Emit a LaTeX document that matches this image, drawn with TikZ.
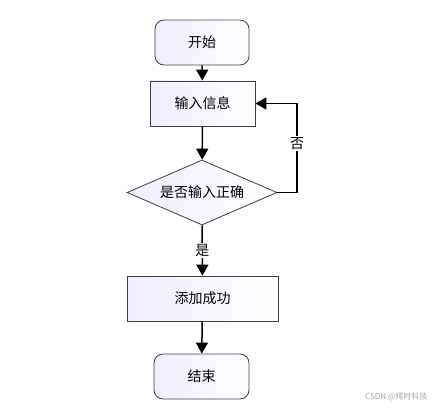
\documentclass[tikz,border=0pt]{standalone}
\usepackage{fontspec}
\setmainfont{Noto Sans CJK SC}
\usetikzlibrary{arrows.meta,shapes.geometric}

\begin{document}
\begin{tikzpicture}[x=1pt,y=-1pt]
	\tikzstyle{box}=[draw=black!75,line width=0.8pt,left color=blue!7,right color=white,minimum height=45pt,font=\fontsize{14}{16}\selectfont,inner sep=0pt]
	\tikzstyle{term}=[box,rounded corners=9pt,minimum width=94pt]
	\tikzstyle{proc}=[box]
	\tikzstyle{test}=[box,diamond,aspect=2.3,minimum width=150pt,minimum height=65pt]
	\tikzstyle{flow}=[line width=1.5pt,-{Triangle[width=12pt,length=11pt]}]
	\tikzstyle{tag}=[fill=white,inner sep=1.5pt,font=\fontsize{14}{16}\selectfont]
	\useasboundingbox (0,0) rectangle (442,412);
	\node[term](start) at (202,42.5) {开始};
	\node[proc,minimum width=105pt](input) at (202.5,103.5) {输入信息};
	\node[test](check) at (202,192.5) {是否输入正确};
	\node[proc,minimum width=151pt](add) at (202.5,298.5) {添加成功};
	\node[term,minimum width=95pt](stop) at (201.5,376.5) {结束};
	\coordinate (turn) at (297,192.5);
	\draw[flow](start) -- (input);
	\draw[flow](input) -- (check);
	\draw[flow](check) -- node[tag] {是}(add);
	\draw[flow](add) -- (stop);
	\draw[flow](check.east) -- (turn) -- node[tag,pos=0.55] {否}(turn |- input) -- (input.east);
	\node[text=black!35,font=\fontsize{8}{10}\selectfont,anchor=east](mark) at (431,397) {CSDN @辉时科技};
\end{tikzpicture}
\end{document}
